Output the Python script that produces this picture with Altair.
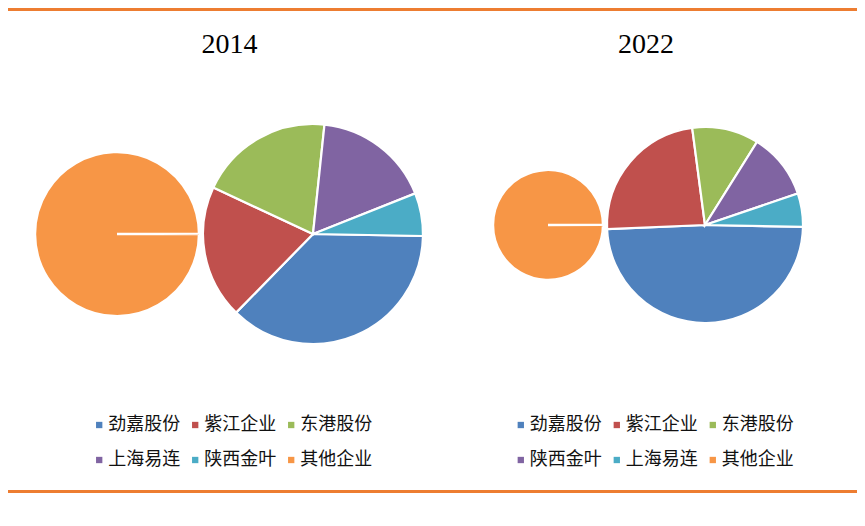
import math
import altair as alt
import pandas as pd

# ---- data ----
years = ["2014", "2022"]
categories_2014 = ["劲嘉股份", "紫江企业", "东港股份", "上海易连", "陕西金叶", "其他企业"]
values_2014 = [37.0, 19.6, 19.7, 17.3, 6.3, 100.0]
categories_2022 = ["劲嘉股份", "紫江企业", "东港股份", "陕西金叶", "上海易连", "其他企业"]
values_2022 = [49.1, 23.6, 11.0, 10.9, 5.5, 100.0]
colors = ["#4F81BD", "#C0504D", "#9BBB59", "#8064A2", "#4BACC6", "#F79646"]

W, H = 849, 510
START = math.pi / 2 + 0.018


def year_layers(cats, vals, main_xy, main_r, other_xy, other_r, leg_xy):
    df = pd.DataFrame({"company": cats, "value": vals, "idx": list(range(len(cats)))})
    main_df = df.iloc[:-1]
    other_df = df.iloc[-1:]
    cscale = alt.Scale(domain=cats, range=colors)
    main = alt.Chart(main_df).mark_arc(
        x=main_xy[0], y=main_xy[1], outerRadius=main_r,
        stroke="white", strokeWidth=2.2,
    ).encode(
        theta=alt.Theta("value:Q", stack=True,
                        scale=alt.Scale(range=[START, START + 2 * math.pi], nice=False)),
        color=alt.Color("company:N", scale=cscale, legend=alt.Legend(
            orient="none", legendX=leg_xy[0], legendY=leg_xy[1],
            direction="horizontal", columns=3, title=None,
            symbolType="square", symbolSize=40, symbolStrokeWidth=0,
            labelFont="Noto Sans CJK SC", labelFontSize=18, labelColor="#111111",
            labelOffset=0, columnPadding=6, rowPadding=17, padding=0, labelLimit=0,
        )),
        order=alt.Order("idx:Q"),
    )
    other = alt.Chart(other_df).mark_arc(
        x=other_xy[0], y=other_xy[1], outerRadius=other_r,
        stroke="white", strokeWidth=2.4,
    ).encode(
        theta=alt.Theta("value:Q", stack=True,
                        scale=alt.Scale(range=[math.pi / 2, math.pi / 2 + 2 * math.pi - 0.004], nice=False)),
        color=alt.Color("company:N", scale=cscale, legend=None),
    )
    return main, other


main14, other14 = year_layers(categories_2014, values_2014, (305, 226), 110, (109, 226), 82, (82.2, 408))
main22, other22 = year_layers(categories_2022, values_2022, (697, 217), 98, (540, 217), 55, (503.8, 408))

title_df = pd.DataFrame({"year": years})
title14 = alt.Chart(title_df.iloc[:1]).mark_text(
    x=221.5, y=45.3, font="Liberation Serif", fontSize=28, color="#000000",
    align="center", baseline="alphabetic",
).encode(text="year:N")
title22 = alt.Chart(title_df.iloc[1:]).mark_text(
    x=638, y=45.3, font="Liberation Serif", fontSize=28, color="#000000",
    align="center", baseline="alphabetic",
).encode(text="year:N")

dummy = pd.DataFrame({"k": [0]})
rule_top = alt.Chart(dummy).mark_rule(color="#ED7D31", strokeWidth=3).encode(
    x=alt.value(0), x2=alt.value(W), y=alt.value(1.5))
rule_bottom = alt.Chart(dummy).mark_rule(color="#ED7D31", strokeWidth=3).encode(
    x=alt.value(0), x2=alt.value(W), y=alt.value(483.5))

chart = alt.layer(
    main14, other14, main22, other22, title14, title22, rule_top, rule_bottom
).resolve_scale(
    theta="independent", color="independent"
).properties(
    width=W, height=H, autosize="none", padding=0, background="white"
).configure_view(strokeWidth=0)

chart.save("out.html", embed_options={"renderer": "svg", "actions": False})
